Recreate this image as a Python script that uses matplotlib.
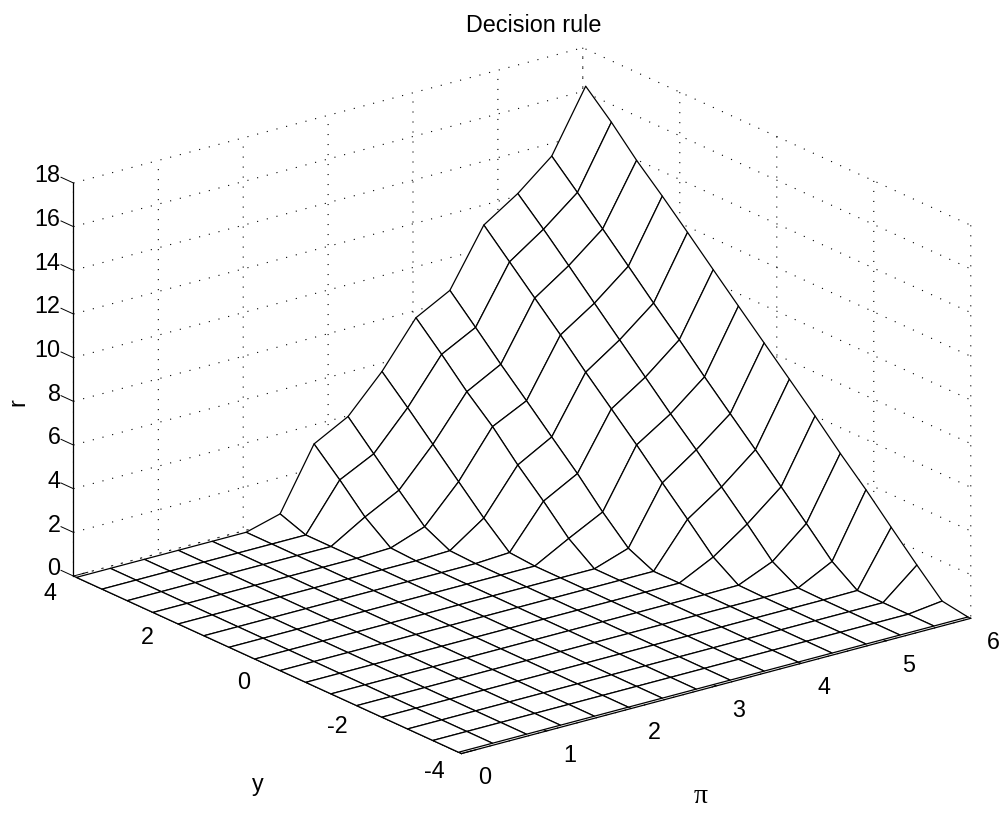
import numpy as np
import matplotlib
matplotlib.use("Agg")
import matplotlib.pyplot as plt

plt.rcParams['font.family'] = ['Liberation Sans', 'DejaVu Sans']
plt.rcParams['axes.unicode_minus'] = False

# grid nodes
pi_vals = [0, 0.4, 0.8, 1.2, 1.6, 2.0, 2.4, 2.8, 3.2, 3.6, 4.0, 4.4, 4.8, 5.2, 5.6, 6.0]
y_vals = [-3.94, -3.41, -2.89, -2.36, -1.84, -1.31, -0.79, -0.26, 0.26, 0.79, 1.31, 1.84, 2.36, 2.89, 3.41, 3.94]

# decision rule, one row per pi value, columns run along y_vals
r_vals = [
    [0, 0, 0, 0, 0, 0, 0, 0, 0, 0, 0, 0, 0, 0, 0, 0],
    [0, 0, 0, 0, 0, 0, 0, 0, 0, 0, 0, 0, 0, 0, 0, 0],
    [0, 0, 0, 0, 0, 0, 0, 0, 0, 0, 0, 0, 0, 0, 0, 0],
    [0, 0, 0, 0, 0, 0, 0, 0, 0, 0, 0, 0, 0, 0, 0, 0],
    [0, 0, 0, 0, 0, 0, 0, 0, 0, 0, 0, 0, 0, 0, 0, 0],
    [0, 0, 0, 0, 0, 0, 0, 0, 0, 0, 0, 0, 0, 0, 0, 0],
    [0, 0, 0, 0, 0, 0, 0, 0, 0, 0, 0, 0, 0, 0, 0, 0.43],
    [0, 0, 0, 0, 0, 0, 0, 0, 0, 0, 0, 0, 0.06, 0.94, 2.11, 3.22],
    [0, 0, 0, 0, 0, 0, 0, 0, 0, 0, 0, 0.05, 0.62, 1.75, 2.89, 4.06],
    [0, 0, 0, 0, 0, 0, 0, 0, 0, 0, 0.09, 1.13, 2.27, 3.44, 4.59, 5.71],
    [0, 0, 0, 0, 0, 0, 0, 0, 0, 0.85, 2.03, 3.15, 4.38, 5.44, 6.62, 7.76],
    [0, 0, 0, 0, 0, 0, 0, 0, 0.53, 1.65, 2.88, 4.02, 5.15, 6.28, 7.44, 8.6],
    [0, 0, 0, 0, 0, 0.02, 0.78, 1.97, 3.11, 4.31, 5.43, 6.57, 7.75, 8.9, 10.03, 11.18],
    [0, 0, 0, 0, 0.02, 0.69, 1.88, 3.04, 4.21, 5.32, 6.47, 7.64, 8.79, 9.97, 11.11, 12.21],
    [0, 0, 0, 0.02, 0.82, 2.02, 3.17, 4.33, 5.45, 6.6, 7.77, 8.91, 10.07, 11.24, 12.38, 13.51],
    [0, 0.19, 1.31, 2.5, 3.69, 4.82, 6.0, 7.15, 8.28, 9.43, 10.57, 11.74, 12.87, 13.97, 15.19, 16.3],
]

x_ticks = [0, 1, 2, 3, 4, 5, 6]
y_ticks = [-4, -2, 0, 2, 4]
z_ticks = [0, 2, 4, 6, 8, 10, 12, 14, 16, 18]

fig = plt.figure(figsize=(10.05, 8.14), dpi=100)
# square axes as wide as the figure, the mesh runs close to both edges
ax = fig.add_axes([0.006, -0.1262, 1, 1005 / 814], projection='3d')
ax.set_proj_type('ortho')
ax.view_init(elev=20.4, azim=-127.3)
ax.set_box_aspect((1, 1, 0.655), zoom=0.9639)

X, Y = np.meshgrid(pi_vals, y_vals, indexing='ij')
ax.plot_surface(X, Y, np.array(r_vals), color='white', edgecolor='black', linewidth=0.9,
                shade=False, rstride=1, cstride=1)

ax.set_xlim(0, 6)
ax.set_ylim(-4, 4)
ax.set_zlim(0, 18)
ax.set_xticks(x_ticks)
ax.set_yticks(y_ticks)
ax.set_zticks(z_ticks)

for axis, out in [(ax.xaxis, 0.4), (ax.yaxis, 0.35), (ax.zaxis, 0.4)]:
    axis.set_pane_color((1, 1, 1, 0))
    axis.pane.set_edgecolor('none')
    axis.line.set_color('black')
    axis.line.set_linewidth(0.9)
    axis._axinfo['grid'].update(color='black', linewidth=0.8, linestyle=(0, (1, 8)))
    axis._axinfo['tick'].update(inward_factor=0, outward_factor=out, linewidth={True: 0.7, False: 0.7})
# z ticks run along the y direction here, as on the other wall
ax.zaxis._get_tickdir = lambda *args: 1

ax.tick_params(labelsize=16.8, colors='black')
ax.tick_params(axis='x', pad=8)
ax.tick_params(axis='y', pad=4.5)
ax.tick_params(axis='z', pad=-2.6)
plt.setp(ax.get_xticklabels(), ha='left', va='center')
plt.setp(ax.get_yticklabels(), ha='right', va='center')
plt.setp(ax.get_zticklabels(), ha='right', va='baseline')

fig.text(0.531, 0.969, 'Decision rule', ha='center', va='center', fontsize=16.8)
fig.text(0.697, 0.022, '\u03c0', ha='center', va='center', fontsize=20, family='Liberation Serif')
fig.text(0.257, 0.036, 'y', ha='center', va='center', fontsize=16.8)
fig.text(0.018, 0.506, 'r', ha='center', va='center', fontsize=16.8, rotation=90)

fig.savefig('out.png', dpi=100)
